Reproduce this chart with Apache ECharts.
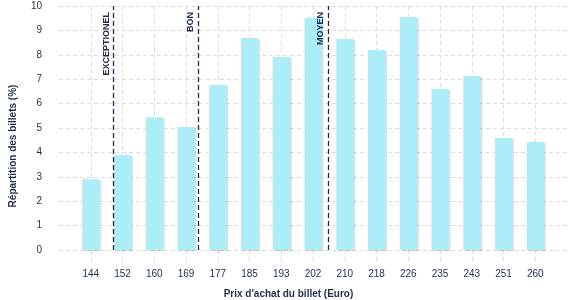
<!DOCTYPE html>
<html>
<head>
<meta charset="utf-8">
<script src="https://cdn.jsdelivr.net/npm/echarts@6/dist/echarts.min.js"></script>
<style>html,body{margin:0;padding:0;background:#fff}#c{width:577px;height:300px}</style>
</head>
<body>
<div id="c"></div>
<script>
const categories = ['144','152','160','169','177','185','193','202','210','218','226','235','243','251','260'];
const shares = [2.90, 3.89, 5.44, 5.04, 6.76, 8.69, 7.91, 9.51, 8.65, 8.20, 9.55, 6.60, 7.13, 4.59, 4.43];
const yTicks = [0,1,2,3,4,5,6,7,8,9,10];
const markerNames = ['EXCEPTIONEL', 'BON', 'MOYEN'];
const markerPositions = [0.72, 3.39, 7.47]; // in category-index units

const paddedCats = [''].concat(categories, ['']);
const paddedVals = ['-'].concat(shares, ['-']);
const lastIdx = paddedCats.length - 1;

const font = 'Liberation Sans, Arial, sans-serif';
const navy = '#1f2d4a';
const grid = '#dcdcdc';

const chart = echarts.init(document.getElementById('c'), null, {renderer: 'canvas'});
chart.setOption({
  animation: false,
  textStyle: {fontFamily: font},
  grid: {left: 59, right: 10, top: 6, bottom: 50},
  title: {
    text: "Prix d'achat du billet (Euro)",
    left: 'center', top: 289, padding: 0,
    textStyle: {fontFamily: font, fontSize: 10, fontWeight: 'bold', color: navy}
  },
  graphic: [{
    type: 'text', x: 13, y: 146, rotation: Math.PI / 2,
    style: {text: 'Répartition des billets (%)', fontFamily: font, fontSize: 10, fontWeight: 'bold',
            fill: navy, align: 'center', verticalAlign: 'middle'}
  }],
  xAxis: [{
    type: 'category', data: paddedCats, boundaryGap: false,
    axisLine: {show: false},
    axisTick: {show: true, length: 14, interval: (i) => i > 0 && i < lastIdx,
               lineStyle: {color: grid, type: [4, 3]}},
    axisLabel: {interval: 0, margin: 19, fontSize: 10, color: navy, fontFamily: font},
    splitLine: {show: true, interval: (i) => i > 0 && i < lastIdx,
                lineStyle: {color: grid, type: [4, 3]}}
  }, {
    type: 'value', min: -1, max: lastIdx - 1, show: false
  }],
  yAxis: {
    type: 'value', min: yTicks[0], max: yTicks[yTicks.length - 1], interval: 1,
    axisLine: {show: false}, axisTick: {show: false},
    axisLabel: {margin: 17, fontSize: 10, color: '#2e3440', fontFamily: font},
    splitLine: {lineStyle: {color: grid, type: [4, 3]}}
  },
  series: [{
    type: 'bar', data: paddedVals, barWidth: 17,
    itemStyle: {color: '#aceef8', shadowColor: 'rgba(0,0,0,0.13)', shadowOffsetX: 2, shadowOffsetY: 1, shadowBlur: 0}
  }, {
    type: 'line', xAxisIndex: 1, data: [],
    markLine: {
      silent: true, symbol: 'none', animation: false,
      lineStyle: {color: navy, type: [5, 3], width: 1.3},
      label: {show: true, position: 'insideEndTop', distance: [6, 3], fontSize: 9, fontWeight: 'bold',
              color: navy, fontFamily: font, formatter: (p) => p.name},
      data: markerNames.map((n, i) => ({name: n, xAxis: markerPositions[i]}))
    }
  }]
});
</script>
</body>
</html>
